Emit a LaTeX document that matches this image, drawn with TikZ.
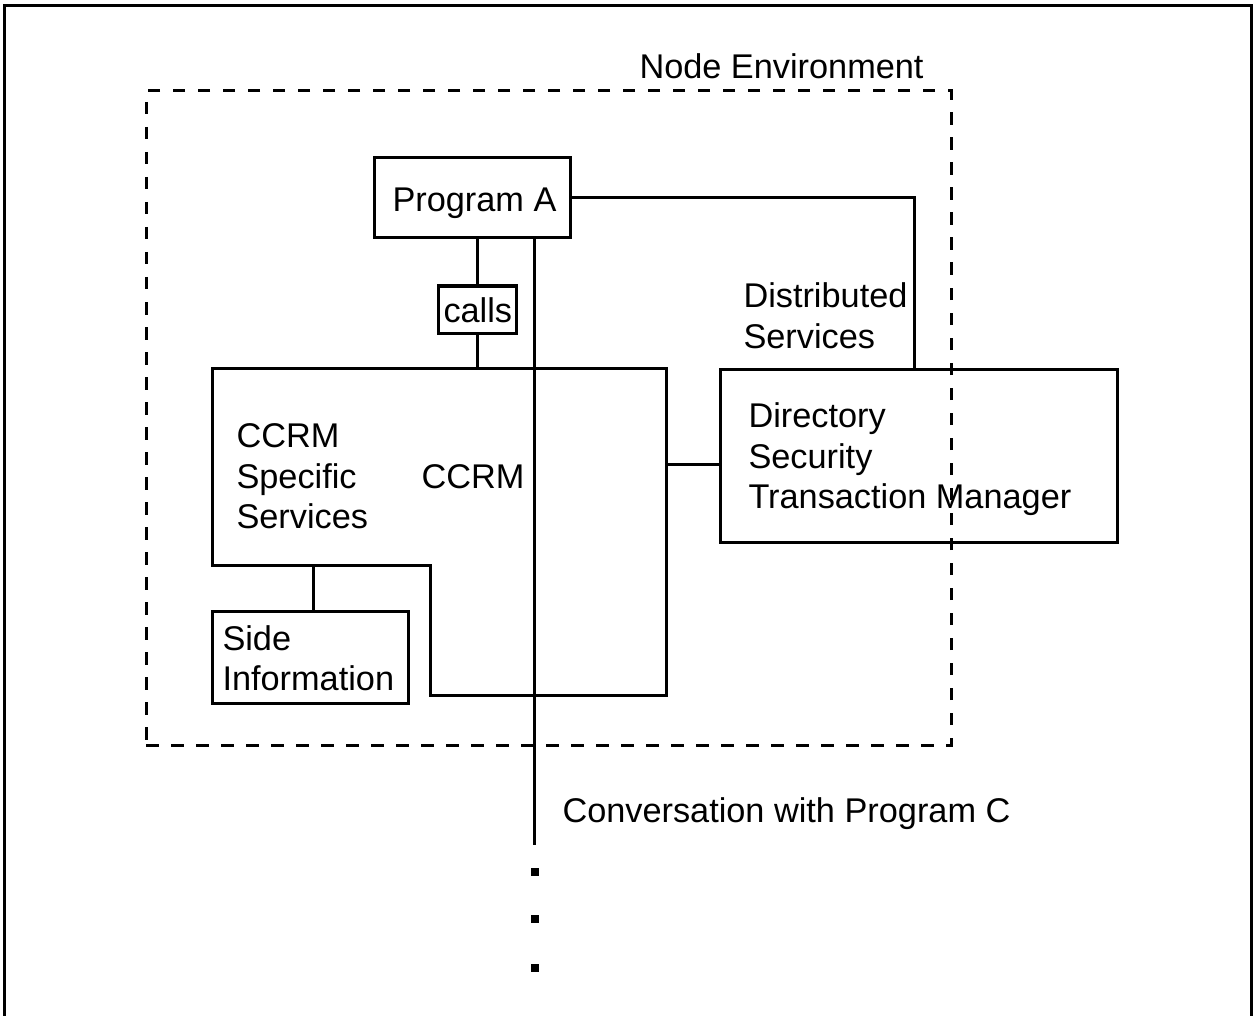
\documentclass[tikz,border=0pt]{standalone}
\usepackage{fontspec}
\setmainfont{Liberation Sans}
\begin{document}
\begin{tikzpicture}[x=1pt,y=-1pt, line width=3pt,
  box/.style={draw, inner sep=0pt, fill=white},
  lbl/.style={anchor=base west, inner sep=0pt, font=\fontsize{34.3}{40}\selectfont},
  envline/.style={draw, dash pattern=on 12.5pt off 12.5pt, inner sep=0pt},
  dotmark/.style={fill, minimum size=7.5pt, inner sep=0pt}]
\useasboundingbox (0,0) rectangle (1255,1016);
% outer frame
\coordinate (frBL) at (4.5,1016);
\coordinate (frTL) at (4.5,5.5);
\coordinate (frTR) at (1251.5,5.5);
\coordinate (frBR) at (1251.5,1016);
\draw (frBL) -- (frTL) -- (frTR) -- (frBR);

% boxes
\node[box, minimum width=196pt, minimum height=80pt] (pa) at (472,198) {};
\node[box, minimum width=78pt, minimum height=47pt] (calls) at (477,309.5) {};
\node[box, minimum width=196pt, minimum height=92pt] (side) at (310,657) {};
\node[box, minimum width=397pt, minimum height=173pt] (dir) at (918.5,455.5) {};

% CCRM shape
\coordinate (ccrmTL) at (212,368);
\coordinate (ccrmTR) at (666,368);
\coordinate (ccrmBR) at (666,695);
\coordinate (ccrmNB) at (430,695);
\coordinate (ccrmNT) at (430,565);
\coordinate (ccrmBL) at (212,565);
\draw (ccrmTL) -- (ccrmTR) -- (ccrmBR) -- (ccrmNB) -- (ccrmNT) -- (ccrmBL) -- cycle;

% connectors
\draw (calls.north |- pa.south) -- (calls.north);
\draw (calls.south) -- (calls.south |- ccrmTL);
\coordinate (dsx) at (914,0);
\draw (pa.east) -| (dir.north -| dsx);
\coordinate (link) at (666,464);
\draw (link) -- (link -| dir.west);
\coordinate (sidelink) at (313,565);
\draw (sidelink) -- (sidelink |- side.north);
\coordinate (convend) at (534,845);
\draw (convend |- pa.south) -- (convend);

% dots
\node[dotmark] (d1) at (535,872) {};
\node[dotmark] (d2) at (535,919) {};
\node[dotmark] (d3) at (535,968) {};

% environment
\node[envline, minimum width=805pt, minimum height=654pt] (env) at (548.5,418) {};

% labels
\node[lbl] (tenv) at (638,79) {Node Environment};
\node[lbl] (tpa) at (391,212) {Program A};
\node[lbl] (tcalls) at (442,322) {calls};
\node[lbl] (tds1) at (742,307) {Distributed};
\node[lbl] (tds2) at (742,348) {Services};
\node[lbl] (tcs1) at (235,447) {CCRM};
\node[lbl] (tcs2) at (235,488) {Specific};
\node[lbl] (tcs3) at (235,528) {Services};
\node[lbl] (tccrm) at (420,488) {CCRM};
\node[lbl] (tdir1) at (747,427) {Directory};
\node[lbl] (tdir2) at (747,468) {Security};
\node[lbl] (tdir3) at (747,508) {Transaction Manager};
\node[lbl] (tside1) at (221,650) {Side};
\node[lbl] (tside2) at (221,690) {Information};
\node[lbl] (tconv) at (561,822) {Conversation with Program C};
\end{tikzpicture}
\end{document}
